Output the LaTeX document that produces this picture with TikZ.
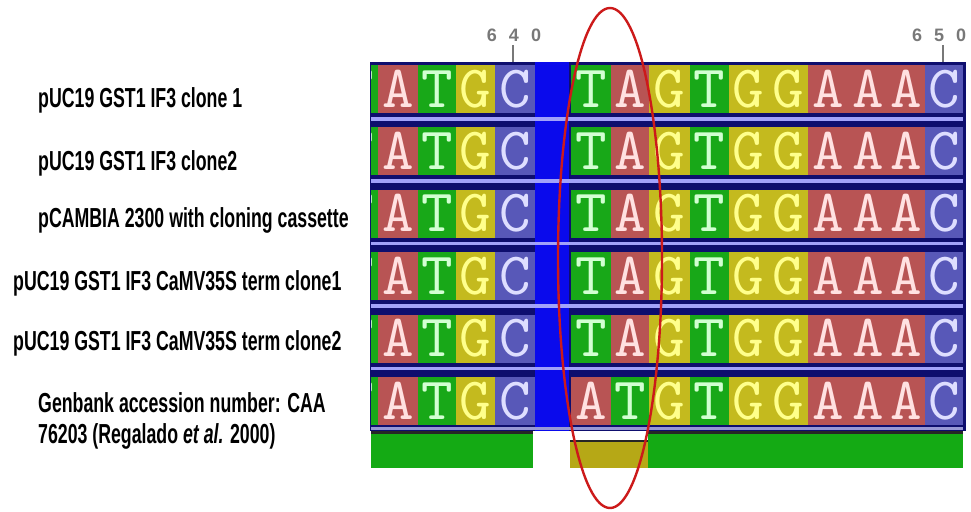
\documentclass[tikz,border=0pt]{standalone}
\usepackage{fontspec}
\newfontfamily\labfont[FakeStretch=0.645]{Liberation Sans}
\newfontfamily\basefont{lmmono10-regular.otf}
\newfontfamily\posfont{Liberation Sans}

% cell fills
\definecolor{colA}{RGB}{184,84,84}
\definecolor{colT}{RGB}{24,168,24}
\definecolor{colG}{RGB}{196,186,30}
\definecolor{colC}{RGB}{88,88,184}
% base letters
\definecolor{txtA}{RGB}{255,225,225}
\definecolor{txtT}{RGB}{210,255,210}
\definecolor{txtG}{RGB}{255,255,140}
\definecolor{txtC}{RGB}{222,222,255}
% frame and bars
\definecolor{gapblue}{RGB}{10,10,236}
\definecolor{navy}{RGB}{14,14,110}
\definecolor{sepline}{RGB}{162,162,250}
\definecolor{bargreen}{RGB}{20,170,20}
\definecolor{baryellow}{RGB}{182,168,22}
\definecolor{ringred}{RGB}{204,26,26}
\definecolor{posgray}{RGB}{120,120,120}

\tikzset{
  basechar/.style={inner sep=0pt, anchor=base, font=\basefont\fontsize{60}{60}\selectfont},
  seqlabel/.style={inner sep=0pt, anchor=base west, font=\labfont\bfseries\fontsize{27.5}{31}\selectfont, text=black},
  posmark/.style={inner sep=0pt, font=\posfont\bfseries\fontsize{18}{18}\selectfont, text=posgray},
  tickline/.style={draw=posgray, line width=1.4pt}
}

% one alignment row: #1 = row number, #2 = list of left/right/base
\newcommand\seqrow[2]{%
  \pgfmathsetmacro\rt{65+62.4*(#1-1)}%
  \fill[colT] (371,\rt) rectangle (378,\rt+48);
  \begin{scope}
    \clip (371,\rt) rectangle (378,\rt+48);
    \node[basechar, text=txtT] at (358,\rt+42) {T};
  \end{scope}
  \foreach \xl/\xr/\b in {#2} {
    \fill[col\b] (\xl,\rt) rectangle (\xr,\rt+48);
    \node[basechar, text=txt\b] (r#1-\xl) at ({(\xl+\xr)/2},\rt+42) {\b};
  }%
}

\begin{document}
\begin{tikzpicture}[x=1pt,y=-1pt]
\useasboundingbox (0,0) rectangle (971,511);

% alignment frame
\fill[navy] (370,62) rectangle (966,431);
\fill[gapblue] (535,62) rectangle (569,431);

\foreach \r in {1,...,5} {
  \seqrow{\r}{378/418/A, 418/456/T, 456/495/G, 495/535/C,
    571/611/T, 611/649/A, 649/690/G, 690/729/T, 729/768/G, 768/808/G,
    808/848/A, 848/888/A, 888/925/A, 925/963/C}
}
\seqrow{6}{378/418/A, 418/456/T, 456/495/G, 495/535/C,
    571/611/A, 611/649/T, 649/690/G, 690/729/T, 729/768/G, 768/808/G,
    808/848/A, 848/888/A, 888/925/A, 925/963/C}

% separator lines between rows
\foreach \r in {1,...,5} {
  \pgfmathsetmacro\sy{65+62.4*(\r-1)+52}
  \fill[sepline] (371,\sy) rectangle (963,\sy+3.5);
}
\fill[sepline!70!gray] (371,427) rectangle (963,430);

% consensus bar
\fill[white] (533,431) rectangle (571,470);
\fill[bargreen] (371,433) rectangle (533,468);
\fill[black!85] (371,431) rectangle (533,434);
\fill[baryellow] (570,441) rectangle (648,468);
\fill[black!85] (570,439.5) rectangle (648,442);
\fill[bargreen] (648,433) rectangle (963,468);
\fill[black!85] (648,431) rectangle (963,434);

% position markers
\node[posmark] (p640) at (514,35) {6\hspace{12pt}4\hspace{12pt}0};
\coordinate (t640) at (513,62);
\draw[tickline] (513,45) -- (t640);
\node[posmark, anchor=west] (p650) at (912,35) {6\hspace{12pt}5\hspace{12pt}0};
\coordinate (t650) at (943,62);
\draw[tickline] (943,45) -- (t650);

% sequence names
\node[seqlabel] (n1) at (38,107) {pUC19 GST1 IF3 clone 1};
\node[seqlabel] (n2) at (38,170) {pUC19 GST1 IF3 clone2};
\node[seqlabel] (n3) at (38,227) {pCAMBIA 2300 with cloning cassette};
\node[seqlabel] (n4) at (13,290) {pUC19 GST1 IF3 CaMV35S term clone1};
\node[seqlabel] (n5) at (13,350) {pUC19 GST1 IF3 CaMV35S term clone2};
\node[seqlabel] (n6) at (38,412) {Genbank accession number: CAA};
\node[seqlabel] (n7) at (38,443) {76203 (Regalado \textit{et al.} 2000)};

% highlighted substitution
\draw[ringred, line width=2.4pt] (610,258) ellipse [x radius=52pt, y radius=250pt];
\end{tikzpicture}
\end{document}
